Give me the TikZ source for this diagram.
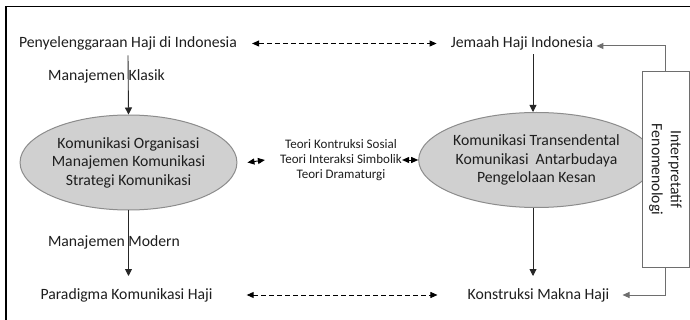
\documentclass[tikz,border=0pt]{standalone}
\usepackage{fontspec}
\setmainfont{Carlito}
\usetikzlibrary{arrows.meta,shapes.geometric,calc}
\definecolor{txt}{HTML}{1E1E1E}
\definecolor{ellfill}{HTML}{D0D0D0}
\definecolor{elldraw}{HTML}{8C8C8C}
\definecolor{conn}{HTML}{262626}
\definecolor{sideconn}{HTML}{6E6E6E}
\tikzset{
  lbl/.style={inner sep=0pt, text=txt, font=\fontsize{15.7}{18.5}\selectfont},
  smalllbl/.style={inner sep=0pt, text=txt, align=center, font=\fontsize{13}{15}\selectfont},
  oval/.style={ellipse, draw=elldraw, fill=ellfill, line width=1pt, inner sep=0pt, align=center, text=txt, font=\fontsize{15.7}{18.5}\selectfont},
  tip/.style={-{Triangle[length=7pt,width=7pt]}},
  dtip/.style={{Triangle[length=7pt,width=6pt]}-{Triangle[length=7pt,width=6pt]}, dash pattern=on 5pt off 3pt, line width=0.9pt, draw=black},
  solidarr/.style={tip, line width=0.9pt, draw=conn},
  sidearr/.style={-{Triangle[length=7pt,width=6pt]}, line width=1pt, draw=sideconn},
  sidebox/.style={draw=sideconn, line width=1pt, fill=white, minimum width=47pt, minimum height=195pt, inner sep=0pt}
}
\begin{document}
\begin{tikzpicture}[x=1pt,y=-1pt]
\useasboundingbox (0,0) rectangle (690,320);
\fill[white] (0,0) rectangle (690,320);
% outer frame (cropped on right and bottom)
\draw[line width=1.5pt, black] (6,320) -- (6,6.5) -- (690,6.5);

\node[lbl] (pen) at (128,43.5) {Penyelenggaraan Haji di Indonesia};
\node[lbl] (jem) at (522,43.5) {Jemaah Haji Indonesia};
\node[lbl] (par) at (126.5,295) {Paradigma Komunikasi Haji};
\node[lbl] (kon) at (538.5,295) {Konstruksi Makna Haji};

\node[oval, minimum width=193pt, minimum height=95pt] (eL) at (128.5,162.5)
  {Komunikasi Organisasi\\Manajemen Komunikasi\\Strategi Komunikasi};
\node[oval, minimum width=207pt, minimum height=95pt] (eR) at (536.5,160)
  {Komunikasi Transendental\\Komunikasi\ \ Antarbudaya\\Pengelolaan Kesan};

\node[smalllbl] (teori) at (341,160)
  {Teori Kontruksi Sosial\\Teori Interaksi Simbolik\\Teori Dramaturgi};

\node[sidebox] (box) at (665.5,169.5) {};
\node[lbl, rotate=-90, align=center, font=\fontsize{15.7}{19}\selectfont] (boxtxt) at (box.center)
  {Interpretatif\\Fenomenologi};

\node[lbl] (mk) at (106.5,76) {Manajemen Klasik};
\node[lbl] (mm) at (114,242) {Manajemen Modern};

% solid vertical arrows
\draw[solidarr] ([yshift=-5pt]pen.south) -- (eL.north);
\draw[solidarr] (eL.south) -- ([yshift=12pt]eL.south |- par.north);
\draw[solidarr] ([yshift=-4pt]jem.south -| 533,0) -- (eR.north -| 533,0);
\draw[solidarr] (eR.south -| 533,0) -- ([yshift=12pt]533,0 |- kon.north);

% dashed double arrows
\draw[dtip] ([xshift=15pt]pen.east) -- ([xshift=-14pt]jem.west);
\draw[dtip] ([xshift=34pt]par.east) -- ([xshift=-30pt]kon.west);
\draw[dtip] ([xshift=10pt]eL.east) -- ([xshift=-15pt]teori.west);
\draw[dtip] (teori.east) -- (eR.west);

% side connectors from box
\draw[sidearr] (box.north) |- ([xshift=3pt,yshift=-2.5pt]jem.east);
\draw[sidearr] (box.south) |- ([xshift=13pt]kon.east);
\end{tikzpicture}
\end{document}
